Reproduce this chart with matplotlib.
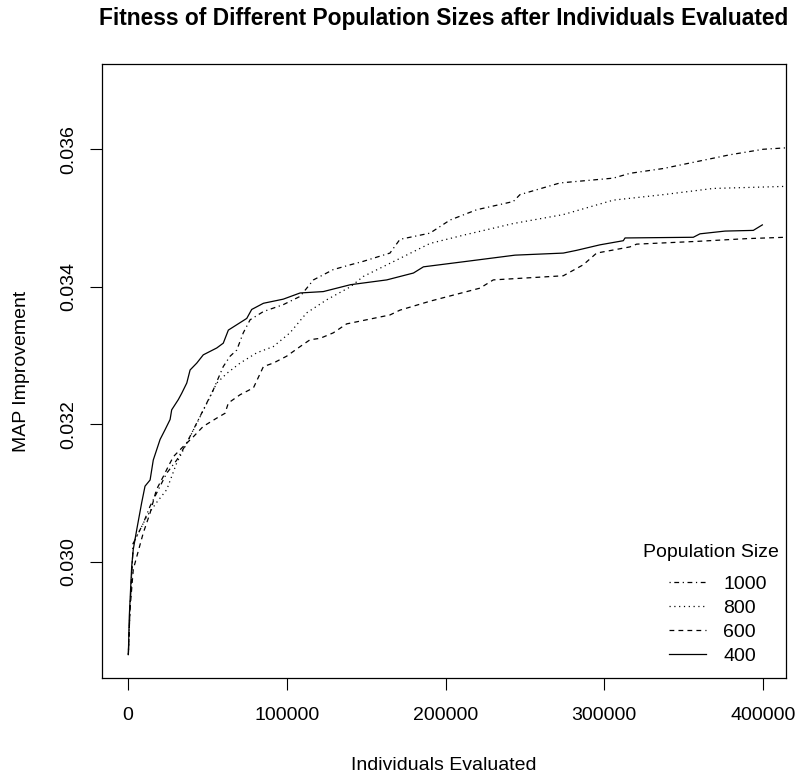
import matplotlib
matplotlib.use("Agg")
import matplotlib.pyplot as plt
from matplotlib.ticker import FixedLocator, FuncFormatter

plt.rcParams['font.family'] = ['Liberation Sans', 'DejaVu Sans']
plt.rcParams['lines.scale_dashes'] = False

# ---- data ----
x400 = [200, 800, 2300, 3300, 5500, 8600, 10700, 13900, 15900, 20200, 23300, 26500,
        27500, 31700, 33800, 37000, 39100, 43300, 47400, 55900, 60000, 63200, 74800,
        77900, 85300, 97800, 108400, 123000, 140100, 163000, 179800, 186100, 213400,
        243800, 274200, 282600, 297300, 312000, 313100, 356100, 360300, 376100,
        393900, 399600]
y400 = [0.02865, 0.02921, 0.02993, 0.03018, 0.03047, 0.03086, 0.03110, 0.03119,
        0.03148, 0.03178, 0.03192, 0.03207, 0.03221, 0.03236, 0.03245, 0.03260,
        0.03279, 0.03289, 0.03301, 0.03311, 0.03318, 0.03337, 0.03354, 0.03367,
        0.03376, 0.03382, 0.03391, 0.03393, 0.03403, 0.03410, 0.03420, 0.03429,
        0.03437, 0.03446, 0.03449, 0.03453, 0.03461, 0.03467, 0.03471, 0.03472,
        0.03477, 0.03481, 0.03482, 0.03490]

x600 = [200, 1200, 3300, 9600, 13900, 17900, 22200, 25400, 28600, 34900, 41200,
        47400, 55900, 61100, 63200, 70600, 79000, 85300, 91500, 99900, 108400,
        114700, 121000, 129300, 137700, 165000, 171300, 190200, 221700, 230100,
        274200, 286800, 295200, 316200, 320400, 358200, 389700, 414100, 420000]
y600 = [0.02865, 0.02930, 0.02989, 0.03042, 0.03071, 0.03105, 0.03124, 0.03139,
        0.03153, 0.03168, 0.03182, 0.03197, 0.03209, 0.03216, 0.03231, 0.03243,
        0.03253, 0.03284, 0.03289, 0.03299, 0.03313, 0.03323, 0.03325, 0.03333,
        0.03346, 0.03359, 0.03366, 0.03379, 0.03398, 0.03410, 0.03416, 0.03432,
        0.03449, 0.03458, 0.03462, 0.03466, 0.03470, 0.03472, 0.03472]

x800 = [200, 1200, 3300, 11800, 17900, 24400, 30700, 39100, 45400, 51700, 55900,
        62200, 70600, 81100, 91500, 102000, 112500, 125100, 140100, 148200, 169300,
        190200, 211200, 242700, 274200, 305700, 337200, 368700, 414100, 420000]
y800 = [0.02865, 0.02930, 0.03027, 0.03066, 0.03086, 0.03105, 0.03144, 0.03182,
        0.03211, 0.03240, 0.03260, 0.03274, 0.03289, 0.03304, 0.03313, 0.03333,
        0.03362, 0.03381, 0.03400, 0.03415, 0.03439, 0.03463, 0.03475, 0.03492,
        0.03505, 0.03526, 0.03534, 0.03543, 0.03546, 0.03546]

x1000 = [200, 1200, 3300, 9600, 13900, 20200, 24400, 30700, 37000, 43300, 49600,
         53700, 60000, 64300, 68500, 72600, 76900, 85300, 97800, 108400, 116800,
         129300, 140100, 148200, 165000, 171300, 190200, 202800, 219600, 242700,
         246900, 272100, 305700, 316200, 337200, 358200, 379200, 400200, 414100,
         420000]
y1000 = [0.02865, 0.02930, 0.03027, 0.03056, 0.03081, 0.03110, 0.03129, 0.03148,
         0.03173, 0.03202, 0.03231, 0.03250, 0.03284, 0.03299, 0.03308, 0.03333,
         0.03352, 0.03364, 0.03374, 0.03386, 0.03410, 0.03425, 0.03432, 0.03437,
         0.03449, 0.03469, 0.03478, 0.03497, 0.03512, 0.03524, 0.03534, 0.03551,
         0.03558, 0.03565, 0.03572, 0.03582, 0.03592, 0.03600, 0.03602, 0.03603]

xticks = [0, 100000, 200000, 300000, 400000]
yticks = [0.030, 0.032, 0.034, 0.036]
labels = ["1000", "800", "600", "400"]
legend_title = "Population Size"

# ---- figure ----
fig = plt.figure(figsize=(7.96, 7.75), dpi=100)
ax = fig.add_axes([102/796, 1 - 678/775, (786-102)/796, (678-64)/775])

lw = 0.9
l1000, = ax.plot(x1000, y1000, color='black', lw=lw, dashes=(0.86, 2.6, 3.46, 2.6))
l800, = ax.plot(x800, y800, color='black', lw=lw, dashes=(0.86, 2.6))
l600, = ax.plot(x600, y600, color='black', lw=lw, dashes=(3.46, 3.0))
l400, = ax.plot(x400, y400, color='black', lw=lw, linestyle='-')

ax.set_xlim(-16400, 414500)
ax.set_ylim(0.02831, 0.03724)

ax.xaxis.set_major_locator(FixedLocator(xticks))
ax.yaxis.set_major_locator(FixedLocator(yticks))
ax.xaxis.set_major_formatter(FuncFormatter(lambda v, p: f"{int(v)}"))
ax.yaxis.set_major_formatter(FuncFormatter(lambda v, p: f"{v:.3f}"))

ax.tick_params(axis='both', direction='out', length=8.6, width=0.8,
               labelsize=14, pad=9)
ax.tick_params(axis='x', pad=12)
for lab in ax.get_yticklabels():
    lab.set_rotation(90)
    lab.set_va('center')

for sp in ax.spines.values():
    sp.set_linewidth(0.9)

ax.set_xlabel("Individuals Evaluated", fontsize=14, labelpad=24)
ax.set_ylabel("MAP Improvement", fontsize=14, labelpad=22)
ax.set_title("Fitness of Different Population Sizes after Individuals Evaluated",
             fontsize=16.4, fontweight='bold', pad=28)

leg = ax.legend([l1000, l800, l600, l400], labels,
                loc='lower right', bbox_to_anchor=(0.9722, 0.021),
                frameon=False, fontsize=14,
                handlelength=1.9, handletextpad=0.9, labelspacing=0.33,
                borderaxespad=0, borderpad=0)
ax.text(0.8896, 0.2036, legend_title, transform=ax.transAxes, fontsize=14,
        ha='center', va='center', clip_on=False)

fig.savefig("out.png", dpi=100)
